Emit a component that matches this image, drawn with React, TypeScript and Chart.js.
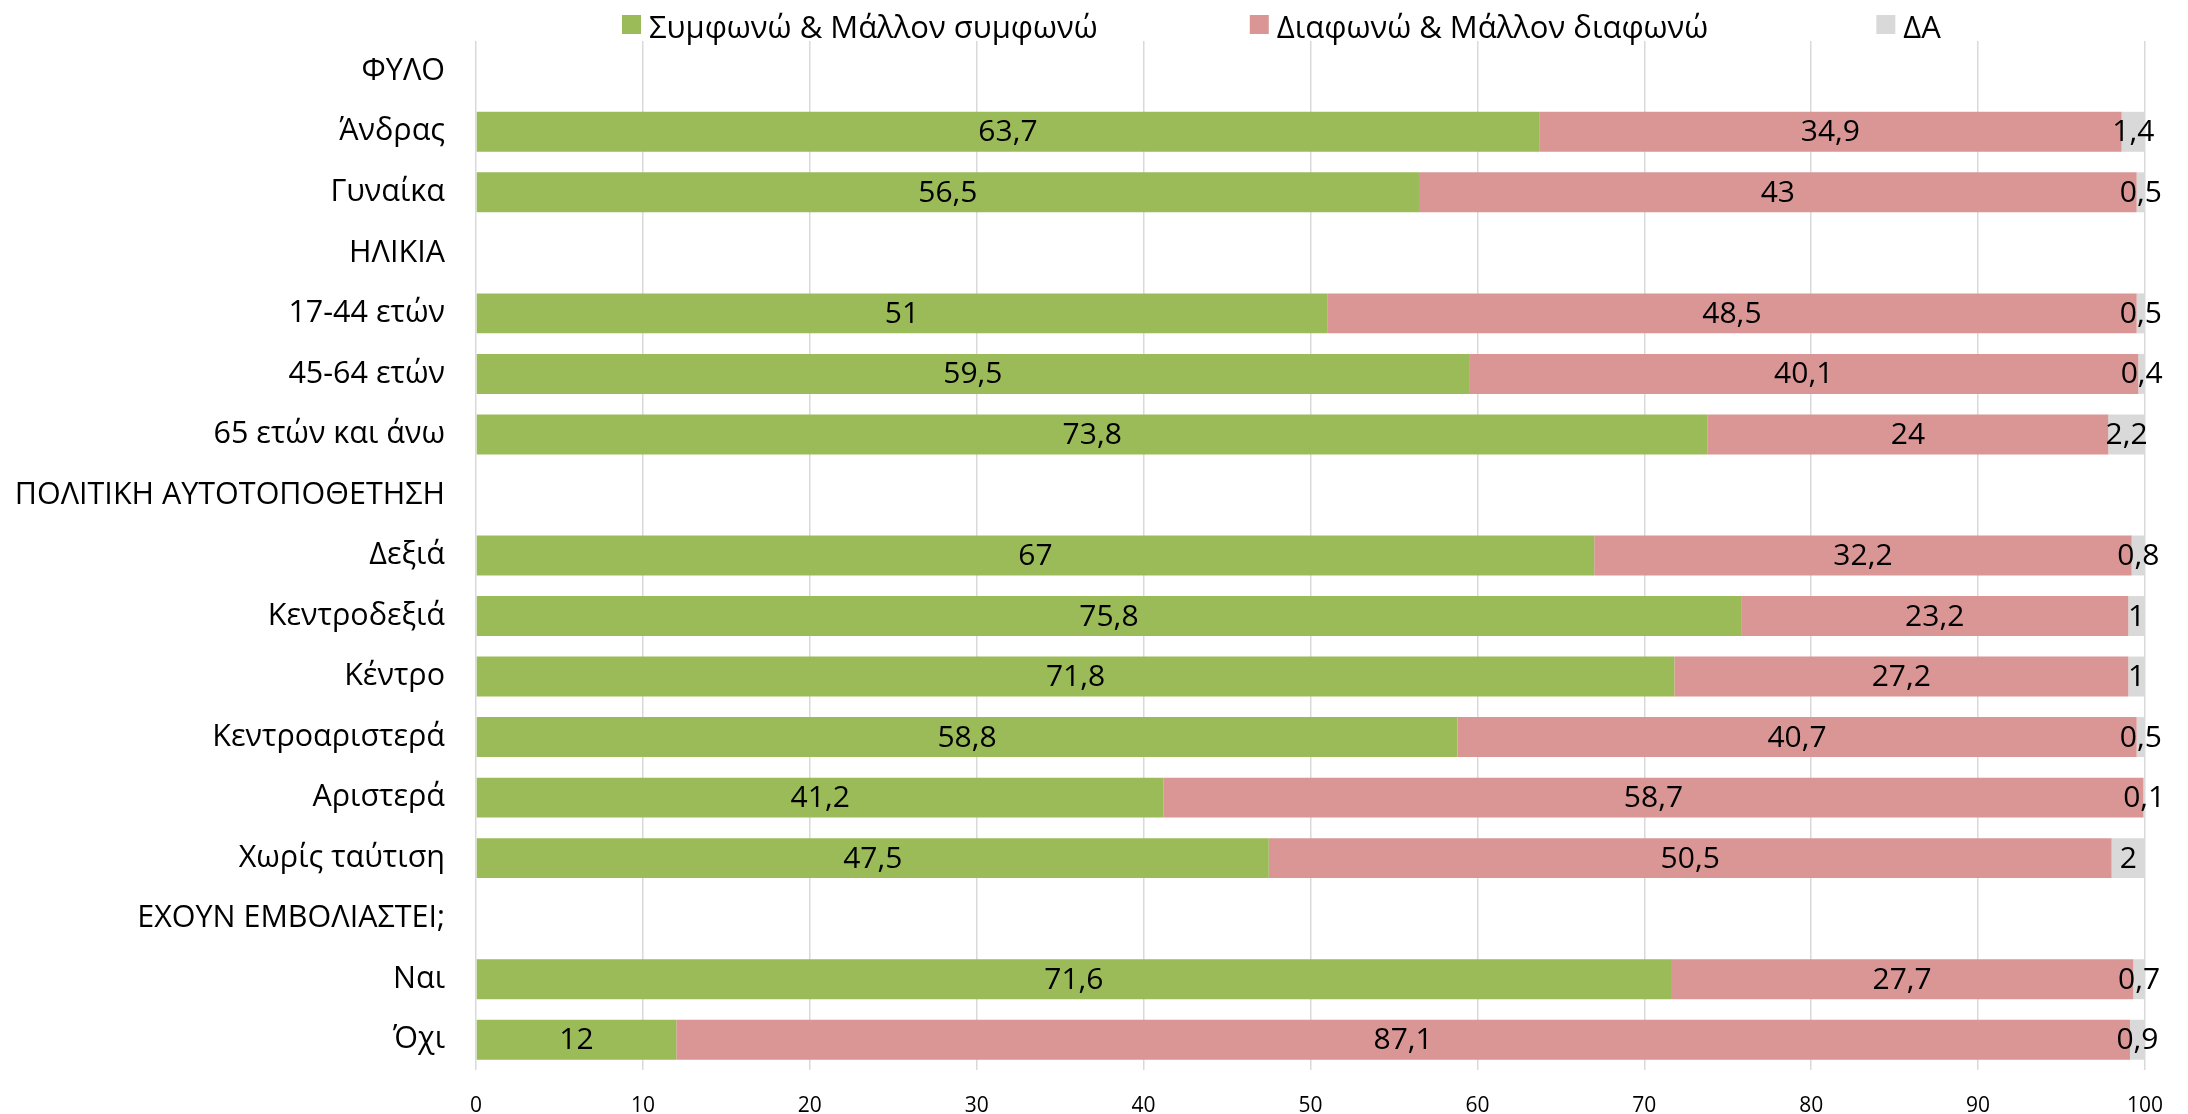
import React, { useEffect, useRef } from 'react';
import { Chart, registerables } from 'chart.js';

Chart.register(...registerables);

const categories = [
  'ΦΥΛΟ',
  'Άνδρας',
  'Γυναίκα',
  'ΗΛΙΚΙΑ',
  '17-44 ετών',
  '45-64 ετών',
  '65 ετών και άνω',
  'ΠΟΛΙΤΙΚΗ ΑΥΤΟΤΟΠΟΘΕΤΗΣΗ',
  'Δεξιά',
  'Κεντροδεξιά',
  'Κέντρο',
  'Κεντροαριστερά',
  'Αριστερά',
  'Χωρίς ταύτιση',
  'ΕΧΟΥΝ ΕΜΒΟΛΙΑΣΤΕΙ;',
  'Ναι',
  'Όχι',
];

const agreeValues = [null, 63.7, 56.5, null, 51, 59.5, 73.8, null, 67, 75.8, 71.8, 58.8, 41.2, 47.5, null, 71.6, 12];
const disagreeValues = [null, 34.9, 43, null, 48.5, 40.1, 24, null, 32.2, 23.2, 27.2, 40.7, 58.7, 50.5, null, 27.7, 87.1];
const dkValues = [null, 1.4, 0.5, null, 0.5, 0.4, 2.2, null, 0.8, 1, 1, 0.5, 0.1, 2, null, 0.7, 0.9];

const seriesLabels = ['Συμφωνώ & Μάλλον συμφωνώ', 'Διαφωνώ & Μάλλον διαφωνώ', 'ΔΑ'];
const seriesColors = ['#9BBB59', '#D99694', '#D9D9D9'];

const xMin = 0;
const xMax = 100;
const xStep = 10;

const FONT = "'Open Sans', 'Noto Sans', sans-serif";

const valueLabelPlugin = {
  id: 'valueLabels',
  afterDatasetsDraw(chart: any) {
    const ctx = chart.ctx;
    ctx.save();
    ctx.font = `30px ${FONT}`;
    ctx.fillStyle = '#000';
    ctx.textAlign = 'center';
    ctx.textBaseline = 'middle';
    chart.data.datasets.forEach((ds: any, di: number) => {
      const meta = chart.getDatasetMeta(di);
      meta.data.forEach((bar: any, i: number) => {
        const v = ds.data[i];
        if (v == null) return;
        const p = bar.getProps(['x', 'base', 'y'], true);
        const cx = (p.x + p.base) / 2;
        ctx.fillText(String(v).replace('.', ','), cx, p.y + 1);
      });
    });
    ctx.restore();
  },
};

const legendPlugin = {
  id: 'customLegend',
  afterDraw(chart: any) {
    const ctx = chart.ctx;
    ctx.save();
    ctx.font = `31px ${FONT}`;
    ctx.textBaseline = 'middle';
    ctx.textAlign = 'left';
    let x = 622;
    const gaps = [152, 168, 0];
    chart.data.datasets.forEach((ds: any, i: number) => {
      ctx.fillStyle = ds.backgroundColor;
      ctx.fillRect(x, 15, 19, 19);
      ctx.fillStyle = '#000';
      ctx.fillText(ds.label, x + 27, 29);
      x += 27 + ctx.measureText(ds.label).width + gaps[i];
    });
    ctx.restore();
  },
};

export default function App() {
  const canvasRef = useRef<HTMLCanvasElement | null>(null);

  useEffect(() => {
    if (!canvasRef.current) return;
    const chart = new Chart(canvasRef.current, {
      type: 'bar',
      data: {
        labels: categories,
        datasets: [
          { label: seriesLabels[0], data: agreeValues, backgroundColor: seriesColors[0] },
          { label: seriesLabels[1], data: disagreeValues, backgroundColor: seriesColors[1] },
          { label: seriesLabels[2], data: dkValues, backgroundColor: seriesColors[2] },
        ],
      },
      options: {
        indexAxis: 'y',
        animation: false,
        responsive: false,
        maintainAspectRatio: false,
        layout: { padding: { top: 41, right: 43, bottom: 0, left: 0 } },
        datasets: {
          bar: { barPercentage: 0.66, categoryPercentage: 1, borderWidth: 0 },
        },
        plugins: {
          legend: { display: false },
          tooltip: { enabled: false },
        },
        scales: {
          x: {
            stacked: true,
            min: xMin,
            max: xMax,
            ticks: {
              stepSize: xStep,
              color: '#000',
              font: { family: FONT, size: 21 },
              padding: 23,
            },
            grid: { color: '#D9D9D9', lineWidth: 1.5, drawTicks: false },
            border: { display: false },
            afterFit: (scale: any) => {
              scale.height = 44;
              scale.paddingLeft = 0;
              scale.paddingRight = 0;
            },
          },
          y: {
            stacked: true,
            ticks: {
              color: '#000',
              font: { family: FONT, size: 30.5 },
              padding: 31,
              autoSkip: false,
            },
            grid: { display: false, drawTicks: false },
            border: { display: false },
            afterFit: (scale: any) => {
              scale.width = 476;
              scale.paddingTop = 0;
              scale.paddingBottom = 0;
            },
          },
        },
      },
      plugins: [valueLabelPlugin, legendPlugin],
    } as any);
    return () => chart.destroy();
  }, []);

  return (
    <div style={{ position: 'absolute', left: 0, top: 0, width: 2188, height: 1114 }}>
      <canvas ref={canvasRef} width={2188} height={1114} style={{ display: 'block' }} />
    </div>
  );
}
